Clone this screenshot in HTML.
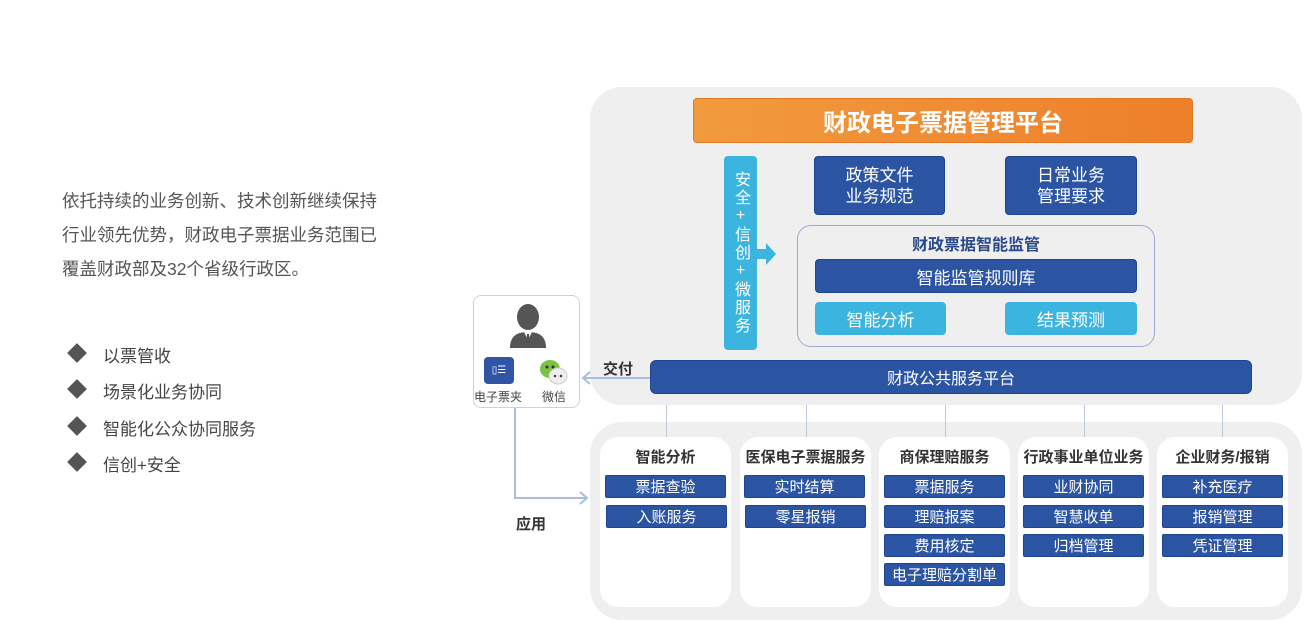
<!DOCTYPE html>
<html><head><meta charset="utf-8"><style>
*{margin:0;padding:0;box-sizing:border-box}
body{width:1305px;height:620px;background:#fff;position:relative;overflow:hidden;font-family:"Liberation Sans","Noto Sans CJK SC",sans-serif}
.a{position:absolute}
.c{display:flex;align-items:center;justify-content:center;text-align:center}
.db{background:#2b54a3;color:#fff;border-radius:4px;border:1px solid #1f4590}
.cy{background:#3cb4e0;color:#fff;border-radius:4px}
.card{background:#fff;border-radius:18px;top:437px;width:131px;height:170px}
.hd{font-size:15px;color:#333;font-weight:bold;width:131px;top:446px;text-align:center}
.it{width:121px;height:23px;font-size:15px;border-radius:2px}
.vl{width:1px;background:#bcc9dd;top:405px;height:32px}
.txt{font-size:17.5px;color:#555;line-height:34px}
.bl{font-size:17px;color:#444}
.dm{width:14px;height:14px;background:#555;transform:rotate(45deg)}
</style></head><body>
<div class="a txt" style="left:62px;top:184px">依托持续的业务创新、技术创新继续保持<br>行业领先优势，财政电子票据业务范围已<br>覆盖财政部及32个省级行政区。</div>
<div class="a dm" style="left:70px;top:346px"></div><div class="a bl" style="left:103px;top:342px">以票管收</div>
<div class="a dm" style="left:70px;top:382px"></div><div class="a bl" style="left:103px;top:378px">场景化业务协同</div>
<div class="a dm" style="left:70px;top:419px"></div><div class="a bl" style="left:103px;top:415px">智能化公众协同服务</div>
<div class="a dm" style="left:70px;top:455px"></div><div class="a bl" style="left:103px;top:451px">信创+安全</div>

<div class="a" style="left:590px;top:87px;width:712px;height:318px;background:#efeff0;border-radius:32px"></div>
<div class="a" style="left:590px;top:422px;width:712px;height:198px;background:#efeff0;border-radius:32px"></div>

<div class="a c" style="left:693px;top:98px;width:500px;height:45px;background:linear-gradient(90deg,#f29a3e,#ee7f2a);border-radius:4px;color:#fff;font-size:24px;font-weight:bold;border:1px solid #e07a20">财政电子票据管理平台</div>
<div class="a c cy" style="left:724px;top:156px;width:33px;height:194px;font-size:16px;line-height:19px;writing-mode:vertical-rl;text-orientation:upright;letter-spacing:2px">安全+信创+微服务</div>
<svg class="a" style="left:757px;top:242px" width="20" height="24"><path d="M0 7h9V1l10 11-10 11v-6H0z" fill="#3cb4e0"/></svg>
<div class="a c db" style="left:814px;top:156px;width:131px;height:59px;font-size:17px;line-height:21px">政策文件<br>业务规范</div>
<div class="a c db" style="left:1005px;top:156px;width:132px;height:59px;font-size:17px;line-height:21px">日常业务<br>管理要求</div>
<div class="a" style="left:797px;top:225px;width:358px;height:122px;border:1px solid #9aabd2;border-radius:14px"></div>
<div class="a" style="left:797px;top:231px;width:358px;text-align:center;font-size:16px;font-weight:bold;color:#2b4a8c">财政票据智能监管</div>
<div class="a c db" style="left:815px;top:259px;width:322px;height:34px;font-size:17px">智能监管规则库</div>
<div class="a c cy" style="left:815px;top:302px;width:131px;height:33px;font-size:17px">智能分析</div>
<div class="a c cy" style="left:1005px;top:302px;width:132px;height:33px;font-size:17px">结果预测</div>
<div class="a c db" style="left:650px;top:360px;width:602px;height:34px;font-size:16px;border-radius:6px">财政公共服务平台</div>

<div class="a vl" style="left:666px"></div><div class="a vl" style="left:806px"></div><div class="a vl" style="left:945px"></div><div class="a vl" style="left:1084px"></div><div class="a vl" style="left:1222px"></div>

<div class="a card" style="left:600px"></div><div class="a card" style="left:740px"></div><div class="a card" style="left:879px"></div><div class="a card" style="left:1018px"></div><div class="a card" style="left:1157px"></div>
<div class="a hd" style="left:600px">智能分析</div>
<div class="a hd" style="left:740px">医保电子票据服务</div>
<div class="a hd" style="left:879px">商保理赔服务</div>
<div class="a hd" style="left:1018px">行政事业单位业务</div>
<div class="a hd" style="left:1157px">企业财务/报销</div>

<div class="a c db it" style="left:605px;top:475px">票据查验</div>
<div class="a c db it" style="left:606px;top:505px">入账服务</div>
<div class="a c db it" style="left:744px;top:475px">实时结算</div>
<div class="a c db it" style="left:745px;top:505px">零星报销</div>
<div class="a c db it" style="left:884px;top:475px">票据服务</div>
<div class="a c db it" style="left:884px;top:505px">理赔报案</div>
<div class="a c db it" style="left:884px;top:534px">费用核定</div>
<div class="a c db it" style="left:884px;top:563px">电子理赔分割单</div>
<div class="a c db it" style="left:1023px;top:475px">业财协同</div>
<div class="a c db it" style="left:1023px;top:505px">智慧收单</div>
<div class="a c db it" style="left:1023px;top:534px">归档管理</div>
<div class="a c db it" style="left:1162px;top:475px">补充医疗</div>
<div class="a c db it" style="left:1162px;top:505px">报销管理</div>
<div class="a c db it" style="left:1162px;top:534px">凭证管理</div>

<div class="a" style="left:473px;top:295px;width:107px;height:113px;border:1px solid #c5d3ea;border-radius:8px;background:#fff"></div>
<svg class="a" style="left:508px;top:300px" width="40" height="50"><ellipse cx="20" cy="17" rx="11" ry="13" fill="#555"/><path d="M2 48c0-12 7-16 18-16s18 4 18 16z" fill="#555"/><path d="M16 32l4 8 4-8z" fill="#fff"/><path d="M19 34h2l1 10h-4z" fill="#555"/></svg>
<div class="a c" style="left:484px;top:357px;width:30px;height:27px;background:#2f55a4;border-radius:4px;color:#fff;font-size:10px">▯☰</div>
<svg class="a" style="left:539px;top:358px" width="30" height="28"><ellipse cx="11" cy="11" rx="10" ry="9" fill="#7cc242"/><ellipse cx="19" cy="18" rx="9" ry="8" fill="#eee" stroke="#ccc"/><circle cx="8" cy="9" r="1.5" fill="#333"/><circle cx="14" cy="9" r="1.5" fill="#333"/><circle cx="16" cy="18" r="1.3" fill="#444"/><circle cx="22" cy="18" r="1.3" fill="#444"/></svg>
<div class="a" style="left:474px;top:388px;font-size:12px;color:#444">电子票夹</div>
<div class="a" style="left:542px;top:388px;font-size:12px;color:#444">微信</div>

<svg class="a" style="left:0;top:0" width="1305" height="620"><g fill="none" stroke="#a9bedf" stroke-width="2"><path d="M650 378H583M590 372l-7 6 7 6"/><path d="M515 408v90h72M580 492l7 6-7 6"/></g></svg>
<div class="a" style="left:603px;top:358px;font-size:15px;font-weight:bold;color:#333">交付</div>
<div class="a" style="left:516px;top:513px;font-size:15px;font-weight:bold;color:#333">应用</div>
</body></html>
